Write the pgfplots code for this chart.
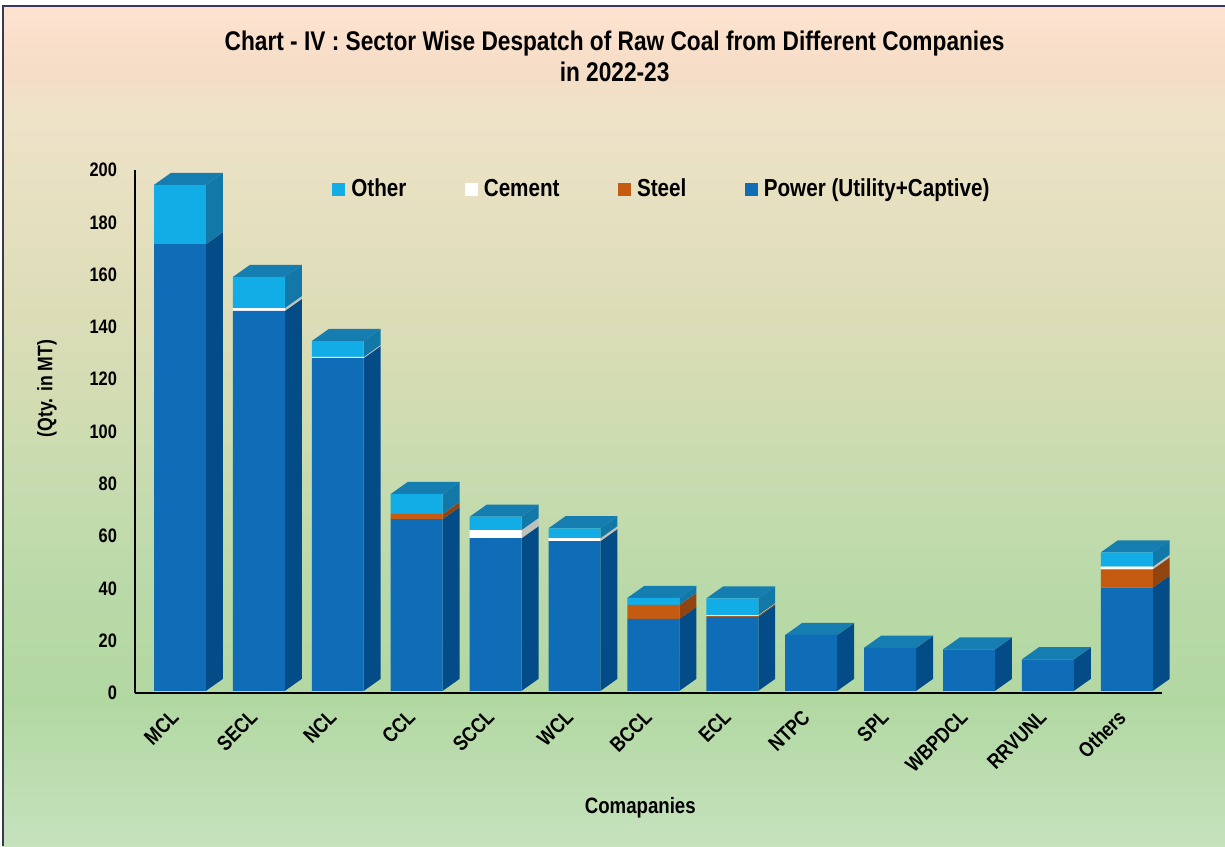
\documentclass[border=0pt]{standalone}
\usepackage{fontspec}
\setmainfont{Liberation Sans}[FakeStretch=0.84]
\usepackage{pgfplots}
\usepackage{pgfplotstable}
\pgfplotsset{compat=1.18}

% 1 px of the reference = 0.5pt
\definecolor{bgA}{HTML}{C6E2BE}
\definecolor{bgB}{HTML}{B2D8A2}
\definecolor{bgC}{HTML}{B8D9A7}
\definecolor{bgD}{HTML}{C4DBAE}
\definecolor{bgE}{HTML}{D2DCB3}
\definecolor{bgF}{HTML}{DDDDB8}
\definecolor{bgG}{HTML}{E6E0C0}
\definecolor{bgH}{HTML}{EFE2C8}
\definecolor{bgI}{HTML}{F5DCC6}
\definecolor{bgJ}{HTML}{FDE3CF}
\pgfdeclareverticalshading{pagebg}{100bp}{
  color(0bp)=(bgA); color(25bp)=(bgA); color(33.6bp)=(bgB); color(39.5bp)=(bgC);
  color(45.4bp)=(bgD); color(51.4bp)=(bgE); color(57.3bp)=(bgF); color(63.2bp)=(bgG);
  color(69.1bp)=(bgH); color(70.9bp)=(bgI); color(74.5bp)=(bgJ); color(100bp)=(bgJ)}

\definecolor{frameC}{HTML}{3A3858}
\definecolor{powerF}{HTML}{0F6DB8}
\definecolor{powerS}{HTML}{044C88}
\definecolor{steelF}{HTML}{C55A11}
\definecolor{steelS}{HTML}{924410}
\definecolor{cementF}{HTML}{FFFFFF}
\definecolor{cementS}{HTML}{BDC2BD}
\definecolor{otherF}{HTML}{12ACE6}
\definecolor{otherS}{HTML}{1178A8}
\definecolor{topF}{HTML}{167DB0}

% segment heights, front face; base is the gap between bar foot and axis line
\pgfplotstableread{
idx name   base power steel cement other
0  MCL     0.8 170.9 0    0    22.6
1  SECL    0.8 145.3 0    1.1  11.9
2  NCL     0.8 127.3 0    0.4  6.1
3  CCL     0.8 65.7  2.0  0    7.6
4  SCCL    0.8 58.4  0    3.1  5.1
5  WCL     0.8 57.3  0    1.1  3.8
6  BCCL    0.8 27.5  5.4  0    2.7
7  ECL     0.8 28.3  0.4  0.3  6.4
8  NTPC    0.8 21.4  0    0    0
9  SPL     0.8 16.5  0    0    0
10 WBPDCL  0.8 15.9  0    0    0
11 RRVUNL  0.8 12.1  0    0    0
12 Others  0.8 39.5  7.0  1.0  5.5
}\coaldata

\def\halfw{0.329}
\def\depx{0.215}
\def\depy{4.6}

\newcommand{\sideseg}[4]{% x, low, high, colour
  \pgfmathsetmacro\xr{#1+\halfw}%
  \pgfmathsetmacro\xb{#1+\halfw+\depx}%
  \pgfmathsetmacro\yl{#2+\depy}%
  \pgfmathsetmacro\yh{#3+\depy}%
  \edef\tmp{\noexpand\addplot[fill=#4,draw=none,forget plot] coordinates
    {(\xr,#2) (\xb,\yl) (\xb,\yh) (\xr,#3)} -- cycle;}\tmp}
\newcommand{\topface}[2]{% x, height
  \pgfmathsetmacro\xl{#1-\halfw}%
  \pgfmathsetmacro\xr{#1+\halfw}%
  \pgfmathsetmacro\xc{#1-\halfw+\depx}%
  \pgfmathsetmacro\xb{#1+\halfw+\depx}%
  \pgfmathsetmacro\yh{#2+\depy}%
  \edef\tmp{\noexpand\addplot[fill=topF,draw=none,forget plot] coordinates
    {(\xl,#2) (\xc,\yh) (\xb,\yh) (\xr,#2)} -- cycle;}\tmp}

\pgfplotsset{
  coalframe/.style={
    scale only axis,
    width=513.5pt,
    height=261.5pt,
    at={(67.5pt,76.5pt)},
    anchor=south west,
    xmin=-0.570, xmax=12.446,
    ymin=0, ymax=200,
    clip=false,
  }
}

\begin{document}
\begin{tikzpicture}
\useasboundingbox (0,0) rectangle (612.5pt,423pt);
\fill[white] (0,0) rectangle (612.5pt,423pt);
\shade[shading=pagebg] (1pt,0) rectangle (612.5pt,420pt);
\draw[color=frameC,line width=1pt] (1.25pt,0) -- (1.25pt,420.2pt) -- (612.5pt,420.2pt);

% side and top faces
\begin{axis}[coalframe, hide axis]
\pgfplotsforeachungrouped \r in {0,...,12}{
  \pgfplotstablegetelem{\r}{base}\of\coaldata \pgfmathsetmacro\ca{\pgfplotsretval}
  \pgfplotstablegetelem{\r}{power}\of\coaldata \pgfmathsetmacro\cb{\ca+\pgfplotsretval}
  \pgfplotstablegetelem{\r}{steel}\of\coaldata \pgfmathsetmacro\cc{\cb+\pgfplotsretval}
  \pgfplotstablegetelem{\r}{cement}\of\coaldata \pgfmathsetmacro\cd{\cc+\pgfplotsretval}
  \pgfplotstablegetelem{\r}{other}\of\coaldata \pgfmathsetmacro\ce{\cd+\pgfplotsretval}
  \sideseg{\r}{\ca}{\cb}{powerS}
  \sideseg{\r}{\cb}{\cc}{steelS}
  \sideseg{\r}{\cc}{\cd}{cementS}
  \sideseg{\r}{\cd}{\ce}{otherS}
  \topface{\r}{\ce}
}
\end{axis}

% front faces, axis lines, labels, legend
\begin{axis}[
  coalframe,
  ybar stacked,
  bar width=0.658,
  axis lines=left,
  axis line style={-,line width=0.9pt,black},
  major tick length=0pt,
  xtick=data,
  xticklabels from table={\coaldata}{name},
  ytick={0,20,...,200},
  /pgf/number format/assume math mode=true,
  yticklabel style={xshift=-5.5pt,font=\fontsize{9.75}{11}\selectfont\bfseries},
  % shifts run along the rotated label
  xticklabel style={rotate=45,anchor=north east,yshift=1.7pt,xshift=-5.7pt,
    font=\fontsize{10.5}{12}\selectfont\bfseries},
  title={Chart - IV : Sector Wise Despatch of Raw Coal from Different Companies\\in 2022-23},
  title style={at={(axis description cs:0.467,1.194)},anchor=center,align=center,
    font=\fontsize{13.5}{15.5}\selectfont\bfseries},
  xlabel={Comapanies},
  xlabel style={at={(axis description cs:0.492,-0.22)},anchor=center,
    font=\fontsize{11.1}{13}\selectfont\bfseries},
  ylabel={(Qty. in MT)},
  ylabel style={at={(axis description cs:-0.0857,0.582)},anchor=center,
    font=\fontsize{10.5}{13}\selectfont\bfseries},
  reverse legend,
  legend columns=4,
  legend style={
    at={(axis description cs:0.514,0.962)},anchor=center,
    draw=none,fill=none,
    font=\fontsize{12.3}{14}\selectfont\bfseries,
    nodes={text height=9pt,text depth=2.6pt},
    /tikz/every even column/.append style={column sep=27.2pt},
    /tikz/every odd column/.append style={column sep=1pt},
  },
  legend image code/.code={\fill[#1] (0pt,-3.25pt) rectangle (6.5pt,3.25pt);},
]
\addplot[draw=none,fill=none,forget plot] table[x=idx,y=base]{\coaldata};
\addplot[draw=none,fill=powerF] table[x=idx,y=power]{\coaldata};
\addplot[draw=none,fill=steelF] table[x=idx,y=steel]{\coaldata};
\addplot[draw=none,fill=cementF] table[x=idx,y=cement]{\coaldata};
\addplot[draw=none,fill=otherF] table[x=idx,y=other]{\coaldata};
\legend{Power (Utility+Captive),Steel,Cement,Other}
\end{axis}
\end{tikzpicture}
\end{document}
